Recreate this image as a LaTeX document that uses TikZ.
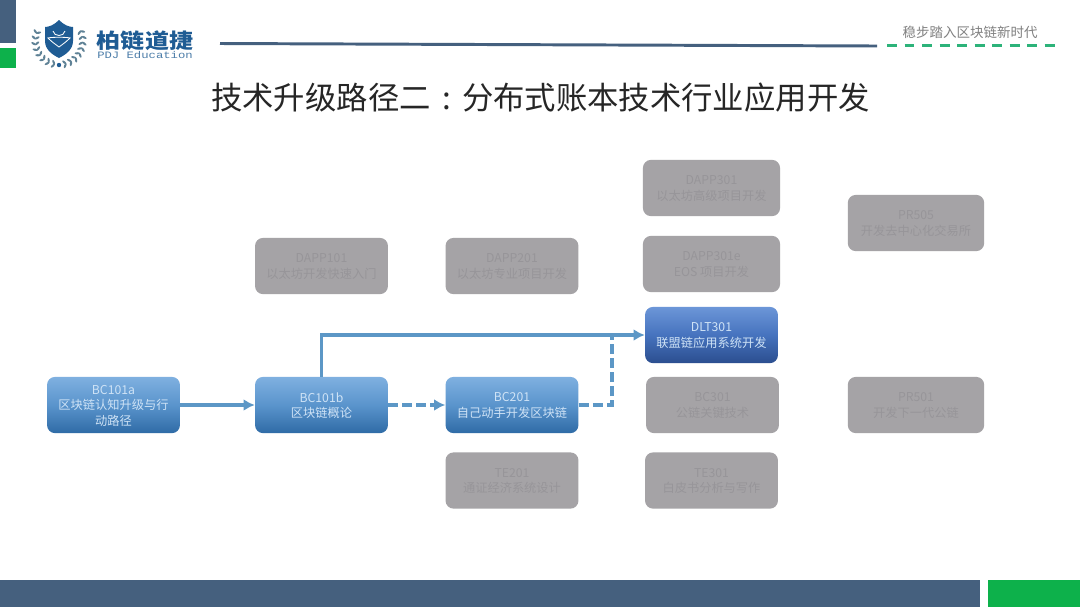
\documentclass[tikz,border=0pt]{standalone}
\usepackage{fontspec}
\usetikzlibrary{arrows.meta}
\setmainfont{Noto Sans CJK SC}
\newfontfamily\logomono{Liberation Mono}
\definecolor{slate}{HTML}{45607E}
\definecolor{leafgreen}{HTML}{0DB14B}
\definecolor{dashgreen}{HTML}{2DB37A}
\definecolor{logoblue}{HTML}{1F5C94}
\definecolor{laurel}{HTML}{5F8296}
\definecolor{linkblue}{HTML}{5C97C6}
\definecolor{mutedgray}{HTML}{A5A3A6}
\definecolor{mutedtext}{HTML}{979599}
\definecolor{boxtext}{HTML}{CFE3F6}
\definecolor{bluetop}{HTML}{7FB0E0}
\definecolor{bluemid}{HTML}{5A94CC}
\definecolor{bluebot}{HTML}{2F6BA6}
\definecolor{deeptop}{HTML}{6C96D8}
\definecolor{deepmid}{HTML}{4673BE}
\definecolor{deepbot}{HTML}{2B4E8F}
\tikzset{
    coursebox/.style={rounded corners=5.7pt,minimum width=94.5pt,minimum height=40pt,inner sep=0pt,align=center,text depth=0pt,font=\fontsize{8.7}{11}\selectfont},
    bluebox/.style={coursebox,top color=bluetop,bottom color=bluebot,middle color=bluemid,text=boxtext},
    deepbox/.style={coursebox,top color=deeptop,bottom color=deepbot,middle color=deepmid,text=boxtext},
    graybox/.style={coursebox,fill=mutedgray,text=mutedtext},
    link/.style={draw=linkblue,line width=2.4pt},
    linkdash/.style={link,dash pattern=on 7pt off 3pt},
}
\begin{document}
\begin{tikzpicture}[x=0.025cm,y=-0.025cm,>={Latex[length=8pt,width=8.5pt]}]
    \useasboundingbox (0,0) rectangle (1080,608);
    \fill[white] (0,0) rectangle (1080,608);

    \begin{scope}
        \fill[slate] (0,0) rectangle (16,43);
        \fill[leafgreen] (0,48) rectangle (16,68);
        \fill[slate] (0,580) rectangle (980,607);
        \fill[leafgreen] (988,580) rectangle (1080,607);
        \draw[draw=slate,line width=2.1pt] (220,43.5) -- (877,46);
        \draw[draw=dashgreen,line width=2.1pt,dash pattern=on 7.1pt off 5.35pt] (887,45.5) -- (1059,45.5);
        \draw (970,32) node[text=gray,font=\fontsize{9.6}{12}\selectfont] (motto) {稳步踏入区块链新时代};
        \draw (540.5,98) node[font=\fontsize{22.3}{26}\selectfont,text=black!85] (title) {技术升级路径二\makebox[1em]{:}分布式账本技术行业应用开发};
    \end{scope}

    \begin{scope}
        \fill[logoblue] (59,20) .. controls (64,25) and (69,27) .. (73,27) -- (73,41) .. controls (73,50) and (65,55) .. (59,58) .. controls (53,55) and (45,50) .. (45,41) -- (45,27) .. controls (49,27) and (54,25) .. (59,20) -- cycle;
        \draw[white,line width=0.6pt] (53,31) .. controls (54,37) and (64,37) .. (65,31);
        \draw[white,line width=0.6pt] (48,38) .. controls (52,37) and (66,37) .. (70,38) .. controls (66,42) and (63,44) .. (59,47) .. controls (55,44) and (52,42) .. (48,38) -- cycle;
        \foreach \a in {-104,-118,...,-208,-76,-62,...,28} {
            \fill[laurel,shift={(59,41)},rotate=\a] (22,0) ellipse [x radius=2.6,y radius=1.1,rotate=35];
            \fill[laurel,shift={(59,41)},rotate=\a] (25.5,0) ellipse [x radius=2.6,y radius=1.1,rotate=-35];
        }
        \fill[logoblue] (59,65) circle (2.2);
        \draw (145,41) node[text=logoblue,font=\fontsize{14.6}{16}\selectfont\bfseries,transform shape,xscale=1.17] (logoname) {柏链道捷};
        \draw (145,55.5) node[text=logoblue!80,font=\logomono\fontsize{8.7}{9}\selectfont,transform shape,yscale=0.8] (logotag) {PDJ Education};
    \end{scope}

    \draw (113.5,405) node[bluebox] (bca) {BC101a\\区块链认知升级与行\\动路径};
    \draw (321.5,405) node[bluebox] (bcb) {BC101b\\区块链概论};
    \draw (512,405) node[bluebox] (bcc) {BC201\\自己动手开发区块链};
    \draw (711.5,335) node[deepbox] (dlt) {DLT301\\联盟链应用系统开发};

    \draw (321.5,266) node[graybox] (dappa) {DAPP101\\以太坊开发快速入门};
    \draw (512,266) node[graybox] (dappb) {DAPP201\\以太坊专业项目开发};
    \draw (711.5,188) node[graybox,minimum width=97.5pt] (dappc) {DAPP301\\以太坊高级项目开发};
    \draw (711.5,264) node[graybox,minimum width=97.5pt] (dappe) {DAPP301e\\EOS 项目开发};
    \draw (712.5,405) node[graybox] (bcd) {BC301\\公链关键技术};
    \draw (512,480.5) node[graybox] (tea) {TE201\\通证经济系统设计};
    \draw (711.5,480.5) node[graybox] (teb) {TE301\\白皮书分析与写作};
    \draw (916,223) node[graybox,minimum width=97pt] (pra) {PR505\\开发去中心化交易所};
    \draw (916,405) node[graybox,minimum width=97pt] (prb) {PR501\\开发下一代公链};

    \coordinate (turn) at (612,335);
    \draw[link,->] (bca) -- (bcb);
    \draw[link,->] (bcb.north) |- (dlt.west);
    \draw[linkdash,->] (bcb) -- (bcc);
    \draw[linkdash] (bcc.east) -| (turn);
\end{tikzpicture}
\end{document}
